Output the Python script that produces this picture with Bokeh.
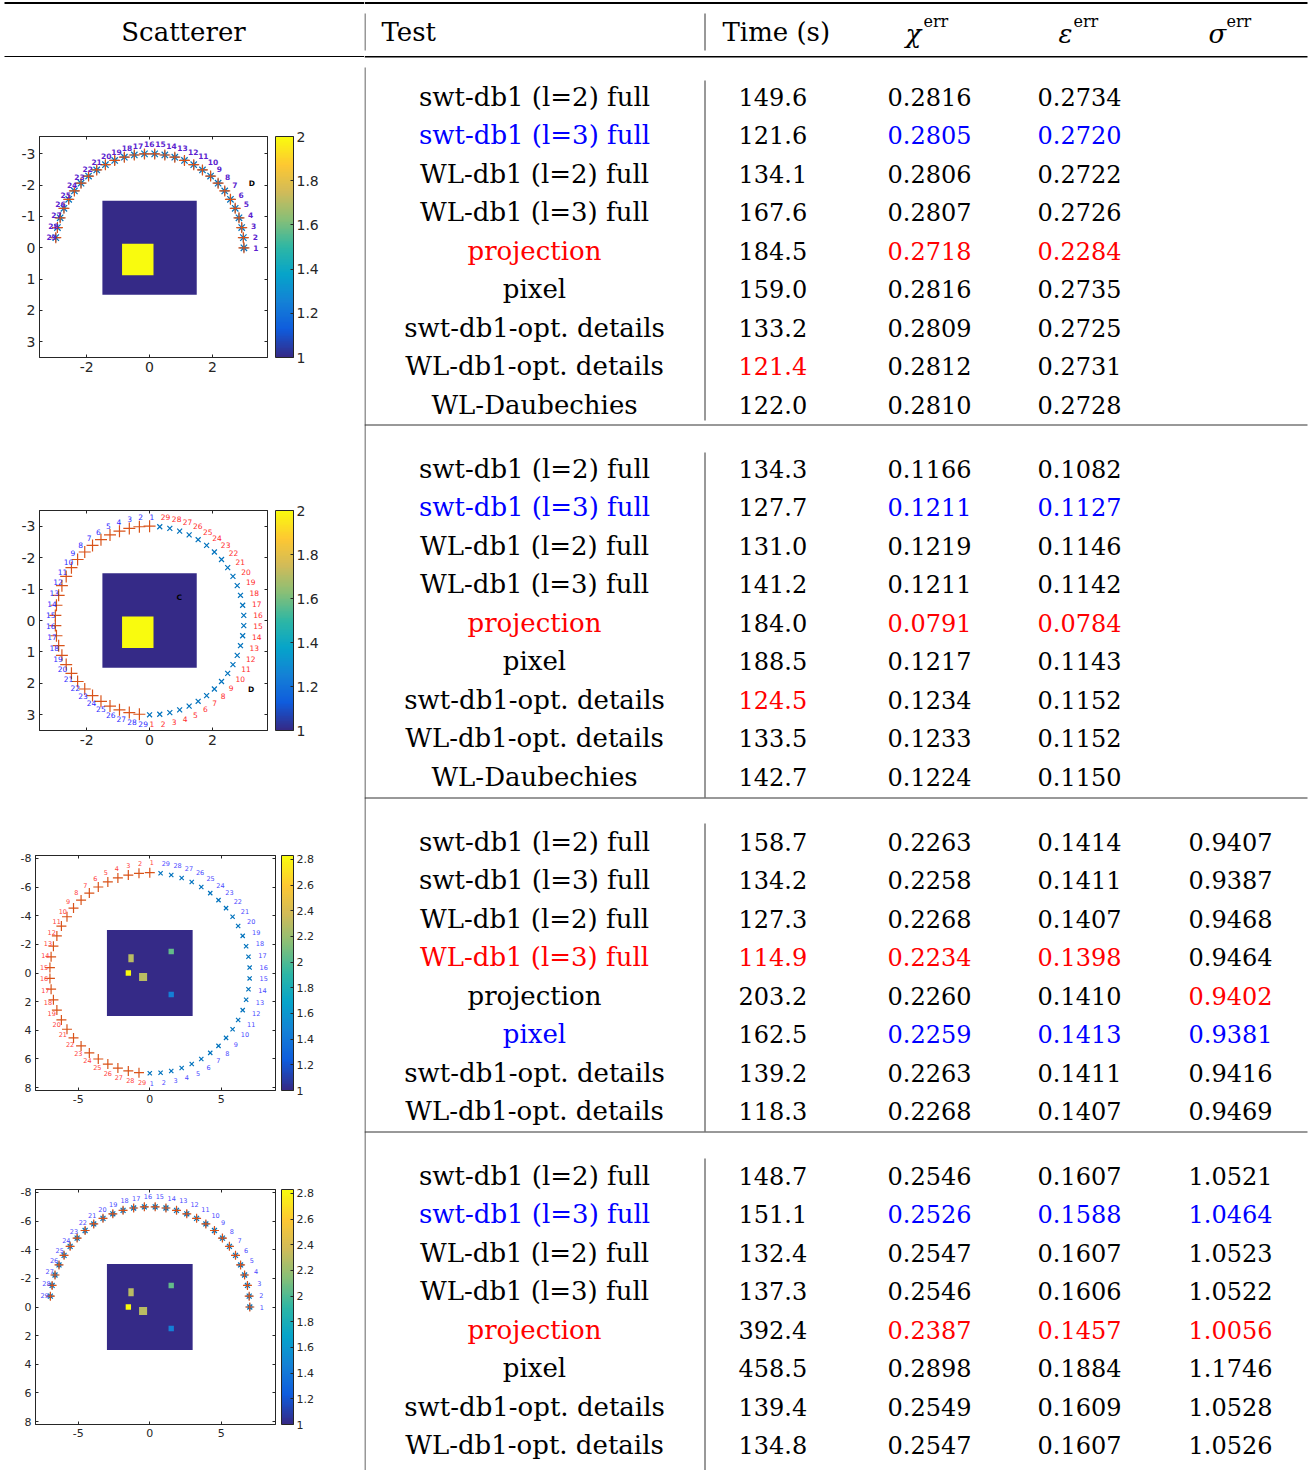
import numpy as np
from bokeh.plotting import figure
from bokeh.layouts import column, row
from bokeh.models import (Range1d, LinearAxis, FixedTicker, ColorBar, LinearColorMapper,
                          NumeralTickFormatter, ColumnDataSource, CustomJSTickFormatter)
from bokeh.core.properties import value
from bokeh.embed import file_html
from bokeh.resources import INLINE

# ---------------------------------------------------------------- table data
tests_9 = ["swt-db1 (l=2) full", "swt-db1 (l=3) full", "WL-db1 (l=2) full",
           "WL-db1 (l=3) full", "projection", "pixel", "swt-db1-opt. details",
           "WL-db1-opt. details", "WL-Daubechies"]
tests_8 = tests_9[:8]

g1_time = ["149.6", "121.6", "134.1", "167.6", "184.5", "159.0", "133.2", "121.4", "122.0"]
g1_chi = ["0.2816", "0.2805", "0.2806", "0.2807", "0.2718", "0.2816", "0.2809", "0.2812", "0.2810"]
g1_eps = ["0.2734", "0.2720", "0.2722", "0.2726", "0.2284", "0.2735", "0.2725", "0.2731", "0.2728"]
g1_sig = ["", "", "", "", "", "", "", "", ""]

g2_time = ["134.3", "127.7", "131.0", "141.2", "184.0", "188.5", "124.5", "133.5", "142.7"]
g2_chi = ["0.1166", "0.1211", "0.1219", "0.1211", "0.0791", "0.1217", "0.1234", "0.1233", "0.1224"]
g2_eps = ["0.1082", "0.1127", "0.1146", "0.1142", "0.0784", "0.1143", "0.1152", "0.1152", "0.1150"]
g2_sig = ["", "", "", "", "", "", "", "", ""]

g3_time = ["158.7", "134.2", "127.3", "114.9", "203.2", "162.5", "139.2", "118.3"]
g3_chi = ["0.2263", "0.2258", "0.2268", "0.2234", "0.2260", "0.2259", "0.2263", "0.2268"]
g3_eps = ["0.1414", "0.1411", "0.1407", "0.1398", "0.1410", "0.1413", "0.1411", "0.1407"]
g3_sig = ["0.9407", "0.9387", "0.9468", "0.9464", "0.9402", "0.9381", "0.9416", "0.9469"]

g4_time = ["148.7", "151.1", "132.4", "137.3", "392.4", "458.5", "139.4", "134.8"]
g4_chi = ["0.2546", "0.2526", "0.2547", "0.2546", "0.2387", "0.2898", "0.2549", "0.2547"]
g4_eps = ["0.1607", "0.1588", "0.1607", "0.1606", "0.1457", "0.1884", "0.1609", "0.1607"]
g4_sig = ["1.0521", "1.0464", "1.0523", "1.0522", "1.0056", "1.1746", "1.0528", "1.0526"]

# highlight codes per cell: k = black, b = blue, r = red
g1_hl = {"test": "kbkkrkkkk", "time": "kkkkkkkrk", "chi": "kbkkrkkkk", "eps": "kbkkrkkkk", "sig": "kkkkkkkkk"}
g2_hl = {"test": "kbkkrkkkk", "time": "kkkkkkrkk", "chi": "kbkkrkkkk", "eps": "kbkkrkkkk", "sig": "kkkkkkkkk"}
g3_hl = {"test": "kkkrkbkk", "time": "kkkrkkkk", "chi": "kkkrkbkk", "eps": "kkkrkbkk", "sig": "kkkkrbkk"}
g4_hl = {"test": "kbkkrkkk", "time": "kkkkkkkk", "chi": "kbkkrkkk", "eps": "kbkkrkkk", "sig": "kbkkrkkk"}

header_left = "Scatterer"
header_cols = ["Test", "Time (s)"]
header_greek = ["χ", "ε", "σ"]
header_sup = "err"

# ---------------------------------------------------------------- scatterer data
ant_step_deg = [0.0, 6.2, 12.4, 18.6, 24.8, 31.0, 37.2, 43.4, 49.7, 55.9, 62.1, 68.3,
                74.5, 80.7, 86.9, 93.1, 99.3, 105.5, 111.7, 117.9, 124.1, 130.3,
                136.6, 142.8, 149.0, 155.2, 161.4, 167.6, 173.8]
ant_labels = ["1", "2", "3", "4", "5", "6", "7", "8", "9", "10", "11", "12", "13", "14",
              "15", "16", "17", "18", "19", "20", "21", "22", "23", "24", "25", "26",
              "27", "28", "29"]

dom_small = {"x0": [-1.5], "x1": [1.5], "y0": [-1.5], "y1": [1.5], "v": [1.0]}
inc_small = {"x0": [-0.875], "x1": [0.125], "y0": [-0.125], "y1": [0.875], "v": [2.0]}
dom_large = {"x0": [-3.0], "x1": [3.0], "y0": [-3.0], "y1": [3.0], "v": [1.0]}
inc_large = {"x0": [1.3125, -1.5, -1.6875, -0.75, 1.3125],
             "x1": [1.6875, -1.125, -1.3125, -0.1875, 1.6875],
             "y0": [-1.6875, -1.3125, -0.1875, 0.0, 1.3125],
             "y1": [-1.3125, -0.75, 0.1875, 0.5625, 1.6875],
             "v": [2.05, 2.3, 2.83, 2.3, 1.45]}

marks_A = {"x": [3.25], "y": [-2.05], "t": ["D"]}
marks_B = {"x": [0.94, 3.23], "y": [-0.72, 2.19], "t": ["C", "D"]}

# ---------------------------------------------------------------- styles
SERIF = value("DejaVu Serif")
SANS = value("DejaVu Sans")
AX = "#262626"
BLUE_M = "#0072BD"
ORANGE_M = "#D95319"
HL = {"k": "#000000", "b": "#0000ff", "r": "#ff0000"}
parula_anchors = ["#352A87", "#0F5CDD", "#1481D6", "#06A4CA", "#2EB7A4",
                  "#87BF77", "#D1BB59", "#FEC832", "#F9FB0E"]
TXT_FS = "26px"
NUM_FS = "24px"


def build_palette(anchors, n=128):
    rgb = np.array([[int(a[i:i + 2], 16) for i in (1, 3, 5)] for a in anchors], float)
    t_a = np.linspace(0, 1, len(anchors))
    t = np.linspace(0, 1, n)
    out = []
    for tt in t:
        c = [int(round(np.interp(tt, t_a, rgb[:, k]))) for k in range(3)]
        out.append("#%02x%02x%02x" % tuple(c))
    return out


PARULA = build_palette(parula_anchors)
LEFT_W = 364
RIGHT_W = 948
TOTAL_H = 1470


def scatter_panel(cfg):
    xl, yl = cfg["xlim"], cfg["ylim"]
    p = figure(width=LEFT_W, height=cfg["h"],
               x_range=Range1d(xl[0], xl[1]), y_range=Range1d(yl[1], yl[0]),
               min_border_left=cfg["bl"], min_border_right=cfg["br"],
               min_border_top=cfg["bt"], min_border_bottom=cfg["bb"],
               toolbar_location=None, output_backend="svg")
    p.xgrid.visible = False
    p.ygrid.visible = False
    p.outline_line_color = AX
    p.outline_line_width = 1
    p.background_fill_color = "white"
    p.border_fill_color = "white"

    for ax, ticks in ((p.xaxis[0], cfg["xt"]), (p.yaxis[0], cfg["yt"])):
        ax.ticker = FixedTicker(ticks=ticks)
        ax.formatter = NumeralTickFormatter(format="0")
        ax.major_tick_in = 3
        ax.major_tick_out = 0
        ax.minor_tick_line_color = None
        ax.axis_line_color = AX
        ax.major_tick_line_color = AX
        ax.major_label_text_font = "DejaVu Sans"
        ax.major_label_text_font_size = cfg["tfs"]
        ax.major_label_text_color = AX
        ax.major_label_standoff = 4
    for loc, ticks in (("above", cfg["xt"]), ("right", cfg["yt"])):
        a = LinearAxis(ticker=FixedTicker(ticks=ticks),
                       formatter=CustomJSTickFormatter(code="return ''"),
                       major_tick_in=3, major_tick_out=0, minor_tick_line_color=None,
                       major_label_standoff=0, axis_line_color=AX, major_tick_line_color=AX)
        p.add_layout(a, loc)

    mapper = LinearColorMapper(palette=PARULA, low=cfg["clim"][0], high=cfg["clim"][1])
    for d in (cfg["dom"], cfg["inc"]):
        p.quad(left="x0", right="x1", bottom="y0", top="y1",
               source=ColumnDataSource(d),
               fill_color={"field": "v", "transform": mapper}, line_color=None)

    r = cfg["r"]
    ang = np.radians(ant_step_deg)
    sets = []
    for start, marker, color, size, lcolor in cfg["sets"]:
        a = np.radians(start) + ang
        x = r * np.cos(a)
        y = -r * np.sin(a)
        p.scatter(x, y, marker=marker, size=size, line_color=color, line_width=1.2)
        sets.append((x, y, lcolor))
    for x, y, lcolor in sets:
        if lcolor is None:
            continue
        p.text(1.1 * x, 1.1 * y, text=ant_labels, text_align="left", text_baseline="middle",
               text_font=SANS, text_font_size=cfg["lfs"], text_color=lcolor,
               text_font_style=cfg["lstyle"])
    if cfg.get("marks"):
        m = cfg["marks"]
        p.text(m["x"], m["y"], text=m["t"], text_align="center", text_baseline="middle",
               text_font=SANS, text_font_size=cfg["lfs"], text_font_style="bold",
               text_color="black")

    cb = ColorBar(color_mapper=mapper, ticker=FixedTicker(ticks=cfg["ct"]),
                  formatter=NumeralTickFormatter(format="0.[0]"),
                  width=cfg["cbw"], height=cfg["fh"], location=(cfg["cbgap"], 0),
                  margin=0, padding=0, label_standoff=3,
                  major_label_text_font="DejaVu Sans", major_label_text_font_size=cfg["tfs"],
                  major_label_text_color=AX, major_tick_in=3, major_tick_line_color=AX,
                  bar_line_color=AX, border_line_color=None, background_fill_color=None)
    p.add_layout(cb, "right")
    return p


ticks3 = [-3, -2, -1, 0, 1, 2, 3]
ticks8 = [-8, -6, -4, -2, 0, 2, 4, 6, 8]
cfgA = dict(h=367, bl=39, br=97, bt=79, bb=67, fh=221, xlim=(-3.5, 3.75), ylim=(-3.55, 3.5),
            xt=[-2, 0, 2], yt=ticks3, tfs="14px", clim=(1, 2), ct=[1, 1.2, 1.4, 1.6, 1.8, 2],
            dom=dom_small, inc=inc_small, r=3, cbw=18, cbgap=8, lfs="7.5px", lstyle="bold",
            sets=[(0, "asterisk", BLUE_M, 9, None), (0, "cross", ORANGE_M, 11, "#5c1fcf")],
            marks=marks_A)
cfgB = dict(h=372, bl=39, br=97, bt=85, bb=67, fh=220, xlim=(-3.5, 3.75), ylim=(-3.5, 3.5),
            xt=[-2, 0, 2], yt=ticks3, tfs="14px", clim=(1, 2), ct=[1, 1.2, 1.4, 1.6, 1.8, 2],
            dom=dom_small, inc=inc_small, r=3, cbw=18, cbgap=8, lfs="7.5px", lstyle="normal",
            sets=[(90, "cross", ORANGE_M, 12, "#2b2bff"), (270, "x", BLUE_M, 7, "#ff2b2b")],
            marks=marks_B)
cfgC = dict(h=333, bl=35, br=89, bt=57, bb=41, fh=235, xlim=(-8.0, 8.8), ylim=(-8.2, 8.2),
            xt=[-5, 0, 5], yt=ticks8, tfs="11px", clim=(1, 2.83),
            ct=[1, 1.2, 1.4, 1.6, 1.8, 2, 2.2, 2.4, 2.6, 2.8],
            dom=dom_large, inc=inc_large, r=7, cbw=12, cbgap=6, lfs="6.5px", lstyle="normal",
            sets=[(90, "cross", ORANGE_M, 10, "#ff4040"), (270, "x", BLUE_M, 6, "#4a4aff")],
            marks=None)
cfgD = dict(h=338, bl=35, br=89, bt=57, bb=46, fh=235, xlim=(-8.0, 8.8), ylim=(-8.2, 8.2),
            xt=[-5, 0, 5], yt=ticks8, tfs="11px", clim=(1, 2.83),
            ct=[1, 1.2, 1.4, 1.6, 1.8, 2, 2.2, 2.4, 2.6, 2.8],
            dom=dom_large, inc=inc_large, r=7, cbw=12, cbgap=6, lfs="6.5px", lstyle="normal",
            sets=[(0, "asterisk", BLUE_M, 7, None), (0, "cross", ORANGE_M, 9, "#4a4aff")],
            marks=None)


def sep_fig():
    s = figure(width=LEFT_W, height=1, x_range=Range1d(0, 1), y_range=Range1d(0, 1),
               x_axis_type=None, y_axis_type=None, min_border=0, toolbar_location=None,
               output_backend="svg", background_fill_color="#333333",
               border_fill_color="#333333", outline_line_color=None)
    s.quad(left=[0], right=[1], bottom=[0], top=[1], color="#333333")
    return s


# ---------------------------------------------------------------- left header
hdr = figure(width=LEFT_W, height=57, x_range=Range1d(0, 364), y_range=Range1d(57, 0),
             x_axis_type=None, y_axis_type=None, min_border=0, toolbar_location=None,
             output_backend="svg", outline_line_color=None)
hdr.grid.visible = False
hdr.text([183], [31], text=[header_left], text_align="center", text_baseline="middle",
         text_font=SERIF, text_font_size=TXT_FS, text_color="black")
hdr.segment(x0=[4, 4], y0=[2.5, 56.2], x1=[364, 364], y1=[2.5, 56.2],
            line_color="black", line_width=[2, 1.4])

# ---------------------------------------------------------------- right table
tab = figure(width=RIGHT_W, height=TOTAL_H, x_range=Range1d(364, 1312),
             y_range=Range1d(TOTAL_H, 0),
             x_axis_type=None, y_axis_type=None, min_border=0, toolbar_location=None,
             output_backend="svg", outline_line_color=None)
tab.grid.visible = False

tab.segment(x0=[364, 364], y0=[2.5, 56.2], x1=[1307, 1307], y1=[2.5, 56.2],
            line_color="black", line_width=[2, 1.4])
tab.segment(x0=[364] * 3, y0=[424.5, 797.5, 1131.5], x1=[1307] * 3,
            y1=[424.5, 797.5, 1131.5], line_color="#333333", line_width=1)
vx = [364.5] * 5 + [704.5] * 5
vy0 = [13, 67, 424, 797, 1131, 13, 80, 452, 823, 1158]
vy1 = [50, 424, 797, 1131, 1470, 50, 420, 797, 1131, 1470]
tab.segment(x0=vx, y0=vy0, x1=vx, y1=vy1, line_color="#333333", line_width=1)

tab.text([381, 722], [31, 31], text=header_cols, text_align="left", text_baseline="middle",
         text_font=SERIF, text_font_size=TXT_FS, text_color="black")
tab.text([905, 1058, 1208], [33, 33, 33], text=header_greek, text_align="left",
         text_baseline="middle", text_font=SERIF, text_font_size=TXT_FS,
         text_font_style="italic", text_color="black")
tab.text([923, 1073, 1226], [21, 21, 21], text=[header_sup] * 3, text_align="left",
         text_baseline="middle", text_font=SERIF, text_font_size="16px", text_color="black")

groups = [
    (tests_9, g1_time, g1_chi, g1_eps, g1_sig, g1_hl, 96),
    (tests_9, g2_time, g2_chi, g2_eps, g2_sig, g2_hl, 468),
    (tests_8, g3_time, g3_chi, g3_eps, g3_sig, g3_hl, 841),
    (tests_8, g4_time, g4_chi, g4_eps, g4_sig, g4_hl, 1175),
]
PITCH = 38.57
cen = {"x": [], "y": [], "t": [], "c": []}
lft = {"x": [], "y": [], "t": [], "c": []}
col_x = {"time": 738, "chi": 887, "eps": 1037, "sig": 1188}
for tests, tm, chi, eps, sig, hl, y0 in groups:
    for i, name in enumerate(tests):
        y = y0 + i * PITCH
        cen["x"].append(534); cen["y"].append(y); cen["t"].append(name)
        cen["c"].append(HL[hl["test"][i]])
        for key, vals in (("time", tm), ("chi", chi), ("eps", eps), ("sig", sig)):
            if vals[i]:
                lft["x"].append(col_x[key]); lft["y"].append(y); lft["t"].append(vals[i])
                lft["c"].append(HL[hl[key][i]])

tab.text(x="x", y="y", text="t", text_color="c", source=ColumnDataSource(cen),
         text_align="center", text_baseline="middle", text_font=SERIF, text_font_size=TXT_FS)
tab.text(x="x", y="y", text="t", text_color="c", source=ColumnDataSource(lft),
         text_align="left", text_baseline="middle", text_font=SERIF, text_font_size=NUM_FS)

left = column(row(hdr), row(scatter_panel(cfgA)), row(sep_fig()), row(scatter_panel(cfgB)),
              row(sep_fig()), row(scatter_panel(cfgC)), row(sep_fig()),
              row(scatter_panel(cfgD)), spacing=0)
page = row(left, tab, spacing=0)

open("out.html", "w").write(file_html(page, INLINE))
